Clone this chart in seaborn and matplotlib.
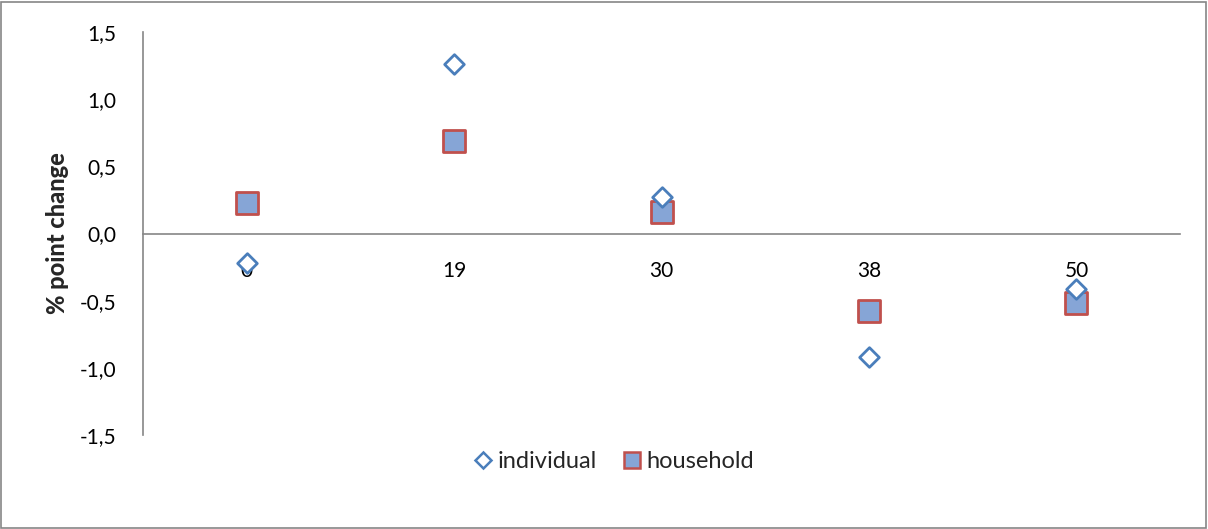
import matplotlib
matplotlib.use("Agg")
import matplotlib.pyplot as plt
import seaborn as sns
import pandas as pd
from matplotlib.ticker import FuncFormatter
from matplotlib.lines import Line2D
from matplotlib.patches import Rectangle

categories = ["0", "19", "30", "38", "50"]
individual = [-0.22, 1.26, 0.27, -0.92, -0.41]
household = [0.23, 0.69, 0.16, -0.58, -0.52]
series_names = ["individual", "household"]
y_ticks = [-1.5, -1.0, -0.5, 0.0, 0.5, 1.0, 1.5]

sns.set_style("white")
plt.rcParams['font.family'] = ['Lato', 'DejaVu Sans']

df = pd.DataFrame({
    "cat": categories * 2,
    "value": individual + household,
    "series": [series_names[0]] * len(categories) + [series_names[1]] * len(categories),
})

fig = plt.figure(figsize=(12.08, 5.29), dpi=100)
ax = fig.add_axes([0.1184, 0.1777, 0.8586, 0.7618])

blue = "#4a7ebb"
red = "#c0504d"
fill = "#86a5d6"

ind = df[df.series == "individual"]
hh = df[df.series == "household"]
sns.scatterplot(data=hh, x="cat", y="value", marker="s", s=240,
                color=fill, edgecolor=red, linewidth=2.0, ax=ax, zorder=3,
                legend=False)
sns.scatterplot(data=ind, x="cat", y="value", marker="D", s=100,
                color="white", edgecolor=blue, linewidth=2.0, ax=ax, zorder=4,
                legend=False)

ax.set_xlim(-0.5, len(categories) - 0.5)
ax.set_ylim(-1.5, 1.5)
ax.set_yticks(y_ticks)
ax.yaxis.set_major_formatter(FuncFormatter(lambda v, p: f"{v:.1f}".replace(".", ",")))
ax.tick_params(axis="both", length=0, labelsize=15, colors="black")
ax.tick_params(axis="y", pad=19)
ax.tick_params(axis="x", pad=20)

for s in ["top", "right"]:
    ax.spines[s].set_visible(False)
ax.spines["bottom"].set_position(("data", 0))
ax.spines["bottom"].set_color("#868686")
ax.spines["left"].set_color("#868686")
ax.spines["bottom"].set_linewidth(1.2)
ax.spines["left"].set_linewidth(1.2)

ax.set_xlabel("")
ax.set_ylabel("% point change", fontsize=17, fontweight="black", labelpad=8)

handles = [
    Line2D([], [], marker="D", linestyle="none", markersize=8, markerfacecolor="white",
           markeredgecolor=blue, markeredgewidth=1.8),
    Line2D([], [], marker="s", linestyle="none", markersize=12, markerfacecolor=fill,
           markeredgecolor=red, markeredgewidth=1.8),
]
fig.legend(handles, series_names, loc="center", bbox_to_anchor=(0.507, 0.127), ncol=2,
           frameon=False, fontsize=17, handletextpad=0.1, columnspacing=1.0,
           handlelength=1.0)

fig.patches.append(Rectangle((0.001, 0.002), 0.997, 0.995, transform=fig.transFigure,
                             fill=False, edgecolor="#868686", linewidth=1.2))

fig.savefig("out.png", dpi=100)
